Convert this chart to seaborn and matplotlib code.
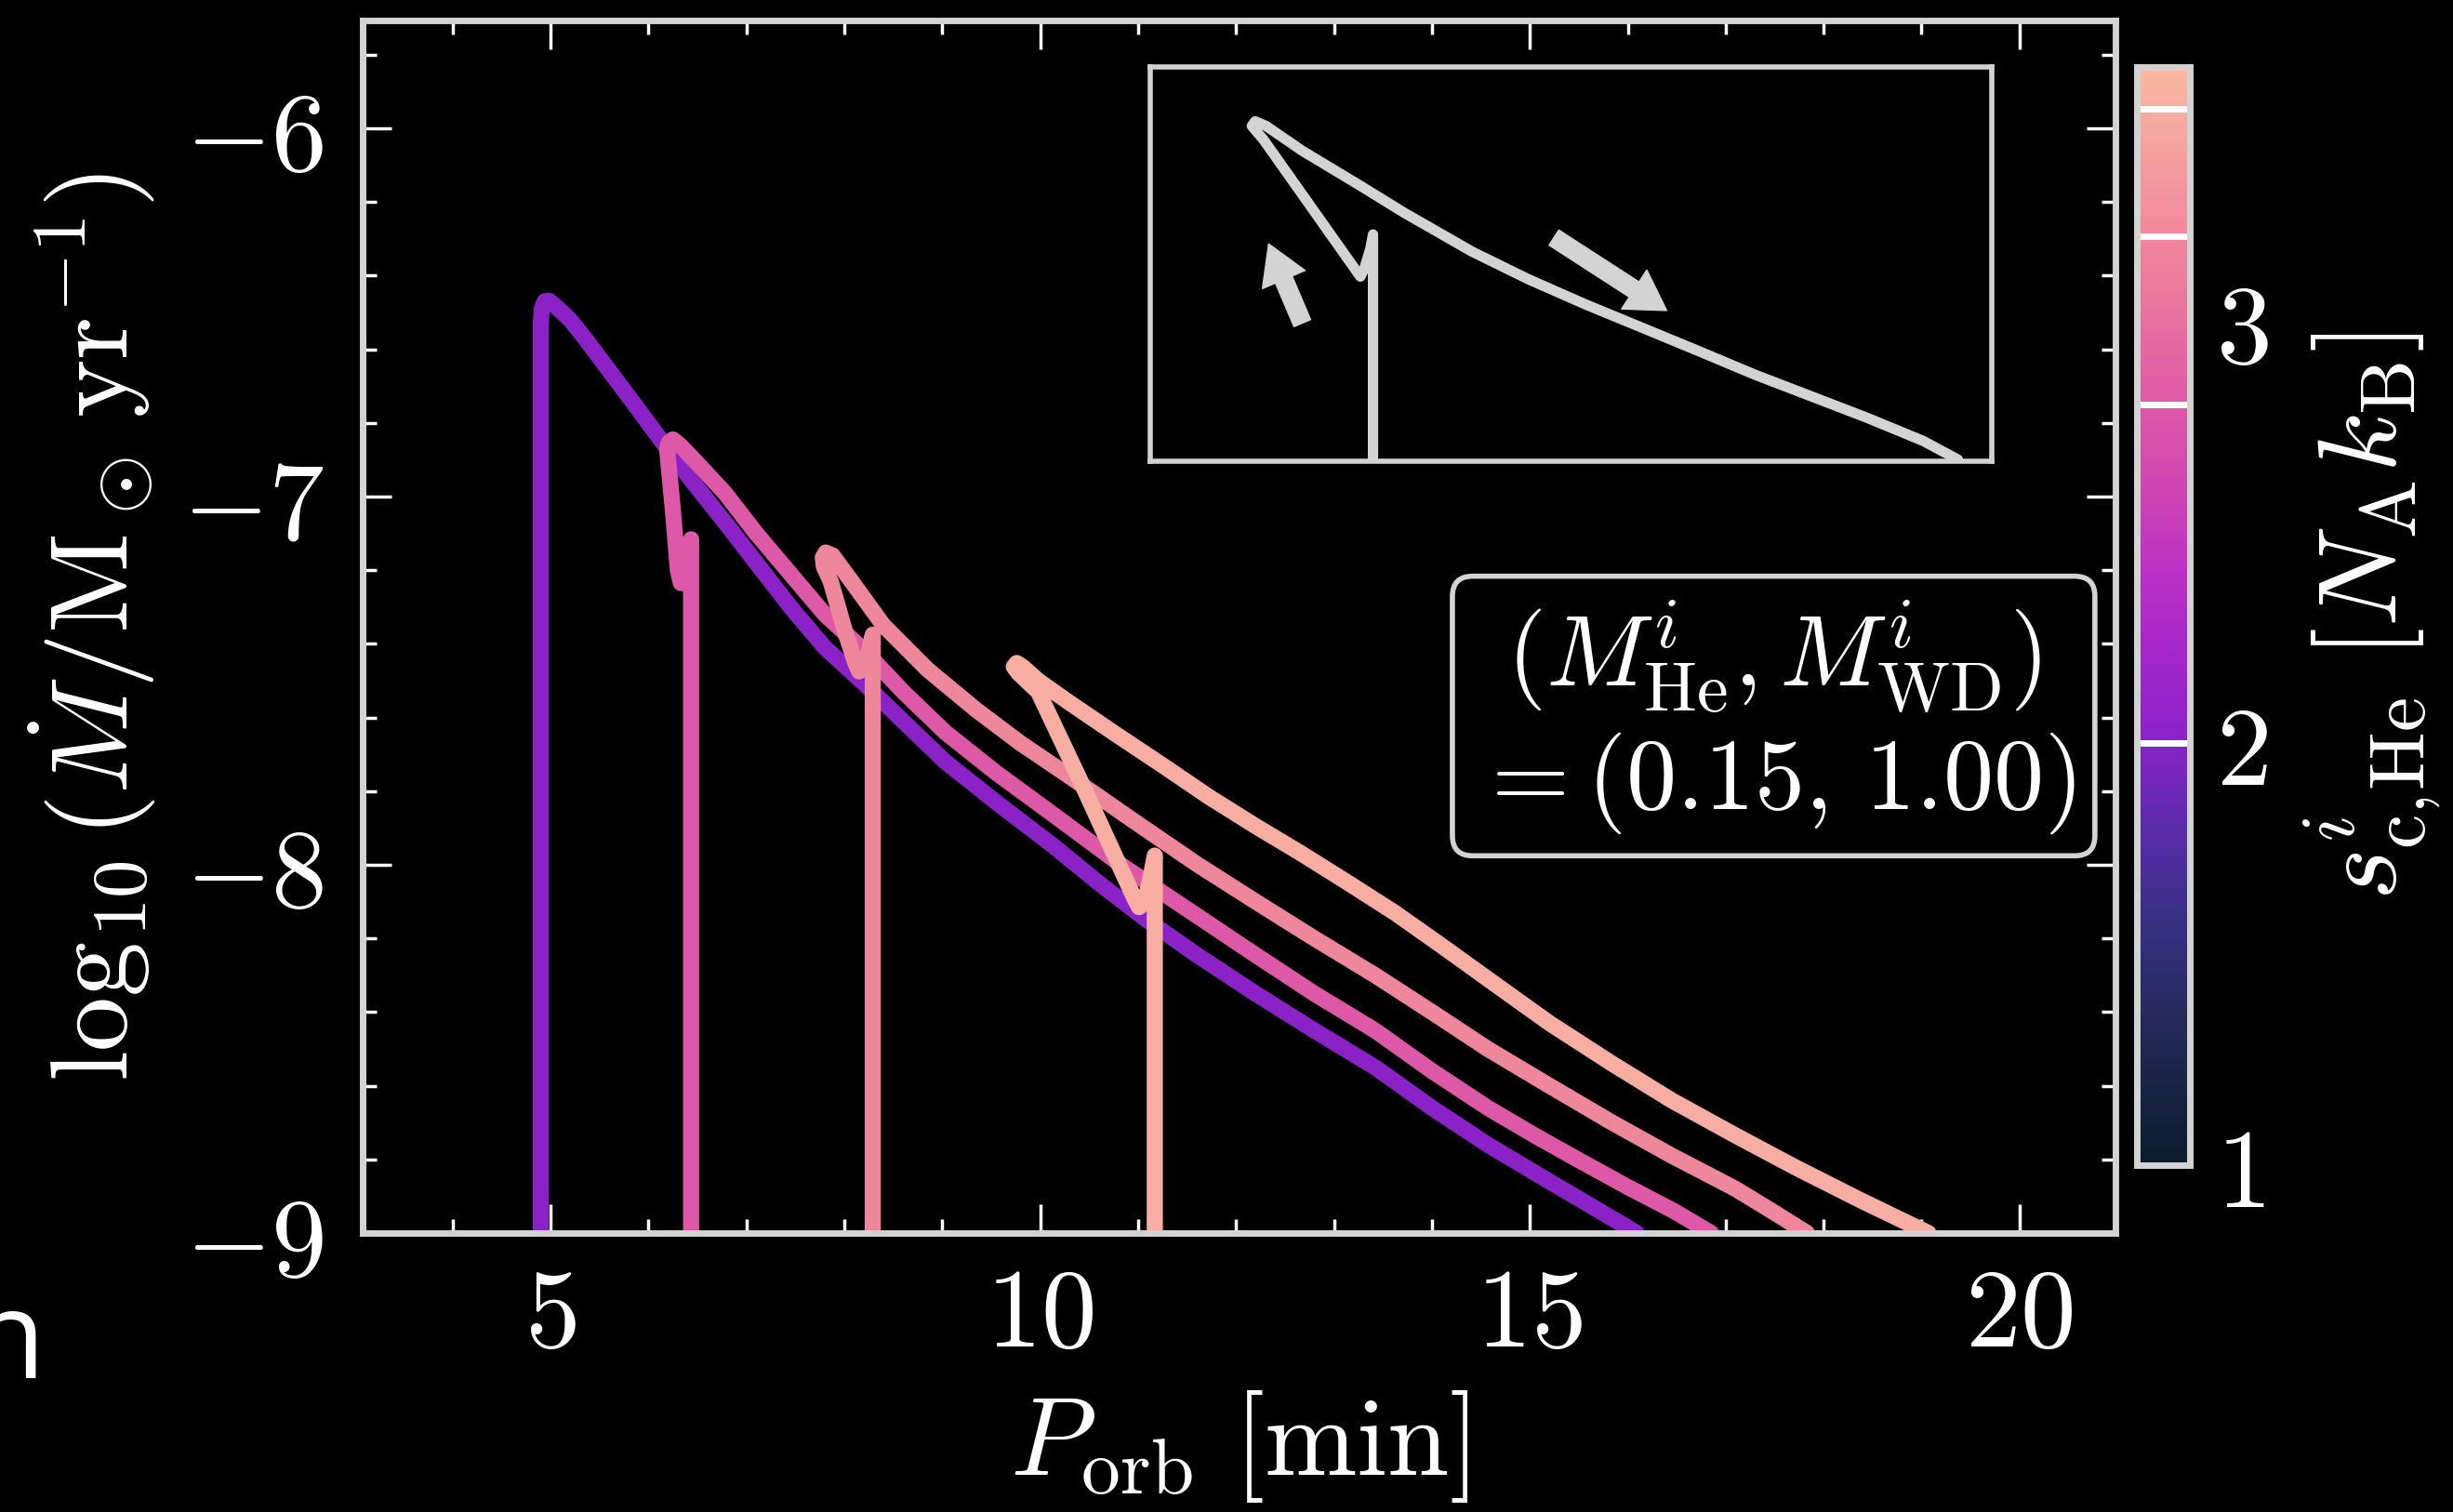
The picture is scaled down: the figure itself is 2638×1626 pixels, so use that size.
import numpy as np
import pandas as pd
import matplotlib as mpl
import matplotlib.pyplot as plt
from matplotlib.colors import LinearSegmentedColormap, Normalize
from matplotlib.ticker import MultipleLocator, FormatStrFormatter
import seaborn as sns

# central entropy of each track (colour bar units, N_A k_B)
s_values = [2.0, 2.8, 3.2, 3.5]

# track for s = 2.0
p_orb_1 = [4.90, 4.90, 4.91, 4.94, 4.98, 5.03, 5.10, 5.20, 5.35, 5.52, 5.83, 6.15, 6.45, 6.78,
           7.10, 7.45, 7.80, 8.21, 8.60, 9.03, 9.55, 10.14, 10.60, 11.09, 11.60, 12.20, 12.80,
           13.42, 14.00, 14.57, 15.20, 15.84, 16.09]
log_mdot_1 = [-9.00, -6.53, -6.49, -6.47, -6.468, -6.478, -6.495, -6.52, -6.57, -6.63, -6.74, -6.855,
              -6.96, -7.07, -7.18, -7.30, -7.41, -7.51, -7.61, -7.72, -7.83, -7.95, -8.05, -8.15,
              -8.245, -8.35, -8.45, -8.55, -8.66, -8.76, -8.86, -8.96, -9.00]

# track for s = 2.8
p_orb_2 = [6.435, 6.435, 6.41, 6.37, 6.33, 6.30, 6.25, 6.20, 6.19, 6.21, 6.25, 6.32, 6.50,
           6.78, 7.10, 7.45, 7.80, 8.21, 8.60, 9.03, 9.55, 10.14, 10.85, 11.61, 12.20, 12.80,
           13.42, 14.00, 14.57, 15.05, 15.52, 16.00, 16.47, 16.85]
log_mdot_2 = [-9.00, -7.116, -7.15, -7.21, -7.235, -7.20, -7.04, -6.90, -6.87, -6.852, -6.845, -6.86,
              -6.91, -6.99, -7.10, -7.21, -7.32, -7.42, -7.53, -7.64, -7.75, -7.865, -8.005, -8.14,
              -8.245, -8.35, -8.45, -8.56, -8.66, -8.735, -8.805, -8.875, -8.94, -9.00]

# track for s = 3.2
p_orb_3 = [8.29, 8.29, 8.26, 8.21, 8.15, 8.11, 8.00, 7.86, 7.79, 7.78, 7.81, 7.88, 8.10,
           8.40, 8.85, 9.35, 9.80, 10.30, 10.95, 11.61, 12.20, 12.80, 13.42, 14.00, 14.57,
           15.20, 15.84, 16.45, 17.10, 17.50, 17.83]
log_mdot_3 = [-9.00, -7.375, -7.41, -7.46, -7.475, -7.45, -7.36, -7.23, -7.19, -7.165, -7.152, -7.16,
              -7.24, -7.35, -7.47, -7.58, -7.67, -7.76, -7.88, -8.00, -8.10, -8.20, -8.30, -8.40,
              -8.50, -8.60, -8.70, -8.79, -8.88, -8.945, -9.00]

# track for s = 3.5
p_orb_4 = [11.17, 11.17, 11.13, 11.07, 11.01, 10.96, 10.46, 9.98, 9.78, 9.73, 9.76, 9.82,
           9.98, 10.30, 10.77, 11.25, 11.72, 12.20, 12.67, 13.15, 13.62, 14.10, 14.57, 15.20,
           15.84, 16.45, 17.10, 17.70, 18.37, 19.07]
log_mdot_4 = [-9.00, -7.975, -8.03, -8.10, -8.115, -8.09, -7.80, -7.53, -7.48, -7.462, -7.452, -7.462,
              -7.50, -7.56, -7.645, -7.73, -7.815, -7.895, -7.97, -8.05, -8.13, -8.22, -8.31, -8.43,
              -8.54, -8.64, -8.735, -8.82, -8.91, -9.00]

tracks_x = [p_orb_1, p_orb_2, p_orb_3, p_orb_4]
tracks_y = [log_mdot_1, log_mdot_2, log_mdot_3, log_mdot_4]

# sketch in the inset (inset axes fraction)
inset_x = [0.265, 0.265, 0.262, 0.255, 0.250, 0.246, 0.190, 0.135, 0.121, 0.125, 0.138, 0.181,
           0.248, 0.302, 0.383, 0.450, 0.517, 0.584, 0.651, 0.718, 0.785, 0.852, 0.919, 0.960]
inset_y = [0.000, 0.575, 0.540, 0.490, 0.468, 0.480, 0.649, 0.815, 0.850, 0.862, 0.850, 0.787,
           0.701, 0.630, 0.531, 0.461, 0.398, 0.339, 0.280, 0.220, 0.165, 0.110, 0.051, 0.004]
arrow_up = [(0.181, 0.350), (0.141, 0.551)]
arrow_down = [(0.480, 0.567), (0.614, 0.382)]

# colour bar
cbar_ticks = [1, 2, 3]
cmap_levels = [1.0, 1.2, 1.4, 1.6, 1.8, 2.0, 2.2, 2.4, 2.6, 2.8, 3.0, 3.2, 3.4, 3.6]
cmap_colors = ["#0c1a2e", "#1a2546", "#292c66", "#3b2f88", "#5a2cab", "#8a22c8", "#a326cb",
               "#bb30c4", "#cf45b4", "#dd58a8", "#e86f9f", "#ef879c", "#f59f9d", "#f9b9a4"]

sns.set_theme(style="ticks", rc={
    "figure.facecolor": "black", "axes.facecolor": "black", "savefig.facecolor": "black",
    "text.color": "white", "axes.labelcolor": "white", "xtick.color": "white",
    "ytick.color": "white", "axes.edgecolor": "#d3d3d3"})
plt.rcParams["mathtext.fontset"] = "cm"
plt.rcParams["font.family"] = ["DejaVu Sans"]

vmin, vmax = cmap_levels[0], cmap_levels[-1]
pos = [(v - vmin) / (vmax - vmin) for v in cmap_levels]
cmap = LinearSegmentedColormap.from_list("entropy", list(zip(pos, cmap_colors)))
norm = Normalize(vmin, vmax)

fig = plt.figure(figsize=(26.38, 16.26), dpi=100)
ax = fig.add_axes([0.1478, 0.1845, 0.7146, 0.802])

for s, xs, ys in zip(s_values, tracks_x, tracks_y):
    sns.lineplot(x=xs, y=ys, sort=False, estimator=None, color=cmap(norm(s)), ax=ax)
    line = ax.lines[-1]
    line.set_linewidth(12.5)
    line.set_solid_capstyle("round")
    line.set_solid_joinstyle("round")

ax.set_xlim(3.08, 20.98)
ax.set_ylim(-9, -5.707)
ax.xaxis.set_major_locator(MultipleLocator(5))
ax.xaxis.set_minor_locator(MultipleLocator(1))
ax.yaxis.set_major_locator(MultipleLocator(1))
ax.yaxis.set_minor_locator(MultipleLocator(0.2))
ax.xaxis.set_major_formatter(FormatStrFormatter("$%d$"))
ax.yaxis.set_major_formatter(FormatStrFormatter("$%d$"))
ax.tick_params(which="both", direction="in", top=True, right=True, color="white", width=2.5)
ax.tick_params(which="major", length=22, labelsize=86)
ax.tick_params(which="minor", length=11)
ax.tick_params(axis="x", pad=22)
ax.tick_params(axis="y", pad=30)
for sp in ax.spines.values():
    sp.set_color("#d3d3d3")
    sp.set_linewidth(5)

ax.set_xlabel(r"$P_{\rm orb}\ [{\rm min}]$", fontsize=86)
ax.xaxis.set_label_coords(0.5, -0.128)
ax.set_ylabel(r"$\log_{10}(\dot{M}/{\rm M}_\odot\,{\rm yr}^{-1})$", fontsize=85, va="center")
ax.yaxis.set_label_coords(-0.154, 0.5)

ax.text(0.805, 0.4256, "$(M^i_{\\rm He}, M^i_{\\rm WD})$\n$=(0.15,\\,1.00)$",
        transform=ax.transAxes, ha="center", va="center", fontsize=78, color="white",
        bbox=dict(boxstyle="round,pad=0.2", fc="black", ec="#d3d3d3", lw=4))

# inset sketch
axin = fig.add_axes([0.4688, 0.695, 0.3431, 0.2608])
axin.set_facecolor("black")
sns.lineplot(x=inset_x, y=inset_y, sort=False, estimator=None, color="#d3d3d3", ax=axin)
axin.lines[-1].set_linewidth(8)
axin.lines[-1].set_solid_capstyle("round")
axin.lines[-1].set_solid_joinstyle("round")
for tail, head in [arrow_up, arrow_down]:
    axin.annotate("", xy=head, xytext=tail,
                  arrowprops=dict(width=14, headwidth=36, headlength=30,
                                  color="#d3d3d3", shrink=0))
axin.set_xlim(0, 1)
axin.set_ylim(0, 1)
axin.set_xticks([])
axin.set_yticks([])
for sp in axin.spines.values():
    sp.set_color("#d3d3d3")
    sp.set_linewidth(4)

# colour bar
cax = fig.add_axes([0.8711, 0.2294, 0.0216, 0.7263])
sm = mpl.cm.ScalarMappable(norm=norm, cmap=cmap)
cbar = fig.colorbar(sm, cax=cax)
cbar.set_ticks(cbar_ticks)
cax.yaxis.set_major_formatter(FormatStrFormatter("$%d$"))
cax.yaxis.set_minor_locator(MultipleLocator(0.2))
cax.tick_params(which="both", direction="in", right=True, left=False, color="white", width=2.5)
cax.tick_params(which="major", length=22, labelsize=86, pad=20)
cax.tick_params(which="minor", length=11)
for s in s_values:
    cax.axhline(s, color="white", lw=5)
cbar.outline.set_edgecolor("#d3d3d3")
cbar.outline.set_linewidth(5)
cax.set_ylabel(r"$s^i_{\rm c,\!He}\ [N_{\rm A}k_{\rm B}]$", fontsize=86, rotation=90, va="center")
cax.yaxis.set_label_coords(4.42, 0.5)

# cut-off letter at the lower left edge
fig.text(0.0185, 0.0886, "n", color="white", fontsize=94, family="Open Sans",
         ha="right", va="baseline")

fig.savefig("out.png", dpi=100, facecolor="black")
